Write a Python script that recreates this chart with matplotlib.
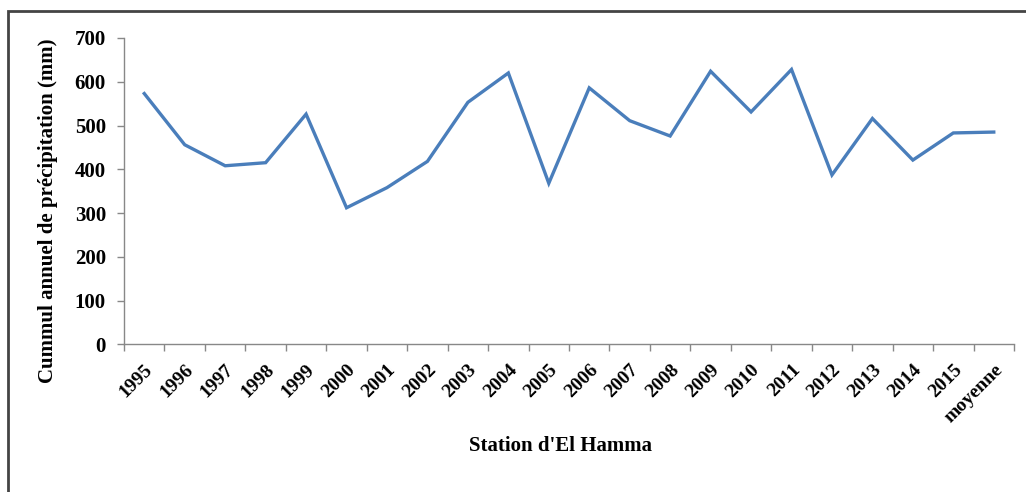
# Cumul annuel de precipitation - station d'El Hamma
import numpy as np
import matplotlib.pyplot as plt
from matplotlib.patches import Rectangle

plt.rcParams['font.family'] = 'Liberation Serif'
plt.rcParams['font.weight'] = 'bold'

annees = ['1995', '1996', '1997', '1998', '1999', '2000', '2001', '2002',
          '2003', '2004', '2005', '2006', '2007', '2008', '2009', '2010',
          '2011', '2012', '2013', '2014', '2015', 'moyenne']
precip = [573, 456, 408, 415, 526, 312, 358, 418, 553, 620, 368,
          586, 511, 476, 624, 531, 628, 387, 516, 421, 483, 485]

grey = '#888888'

fig = plt.figure(figsize=(10.26, 4.92), dpi=100)
ax = fig.add_axes([0.1209, 0.3002, 0.8674, 0.6226])

x = np.arange(len(annees))
ax.plot(x, precip, color='#4A7EBB', lw=2.4, solid_joinstyle='miter')

ax.set_xlim(-0.5, len(annees) - 0.5)
ax.set_ylim(0, 700)
ax.set_yticks(np.arange(0, 701, 100))
ax.set_xticks(x)
ax.set_xticklabels(annees, rotation=45, ha='right', va='top',
                   rotation_mode='anchor', fontsize=14, fontweight='bold')
ax.set_xticks(np.arange(-0.5, len(annees), 1), minor=True)
ax.tick_params(axis='x', which='major', length=0, pad=12)
ax.tick_params(axis='x', which='minor', length=5, color=grey, width=1)
ax.tick_params(axis='y', length=5, color=grey, width=1, labelsize=15, pad=8)
for lab in ax.get_yticklabels():
    lab.set_fontweight('bold')

for s in ['top', 'right']:
    ax.spines[s].set_visible(False)
for s in ['left', 'bottom']:
    ax.spines[s].set_color(grey)
    ax.spines[s].set_linewidth(1)

fig.text(48 / 1026, 1 - 211 / 492, 'Cummul annuel de précipitation (mm)',
         rotation=90, ha='center', va='center', fontsize=15, fontweight='bold')
fig.text(0.546, 0.0935, "Station d'El Hamma", ha='center', va='center',
         fontsize=15, fontweight='bold')

# cadre du graphique
fig.patches.append(Rectangle((8 / 1026, -0.05), 1.2, 1 - 11 / 492 + 0.05,
                             transform=fig.transFigure, fill=False,
                             edgecolor='#444444', lw=2))

fig.savefig('out.png', dpi=100)
